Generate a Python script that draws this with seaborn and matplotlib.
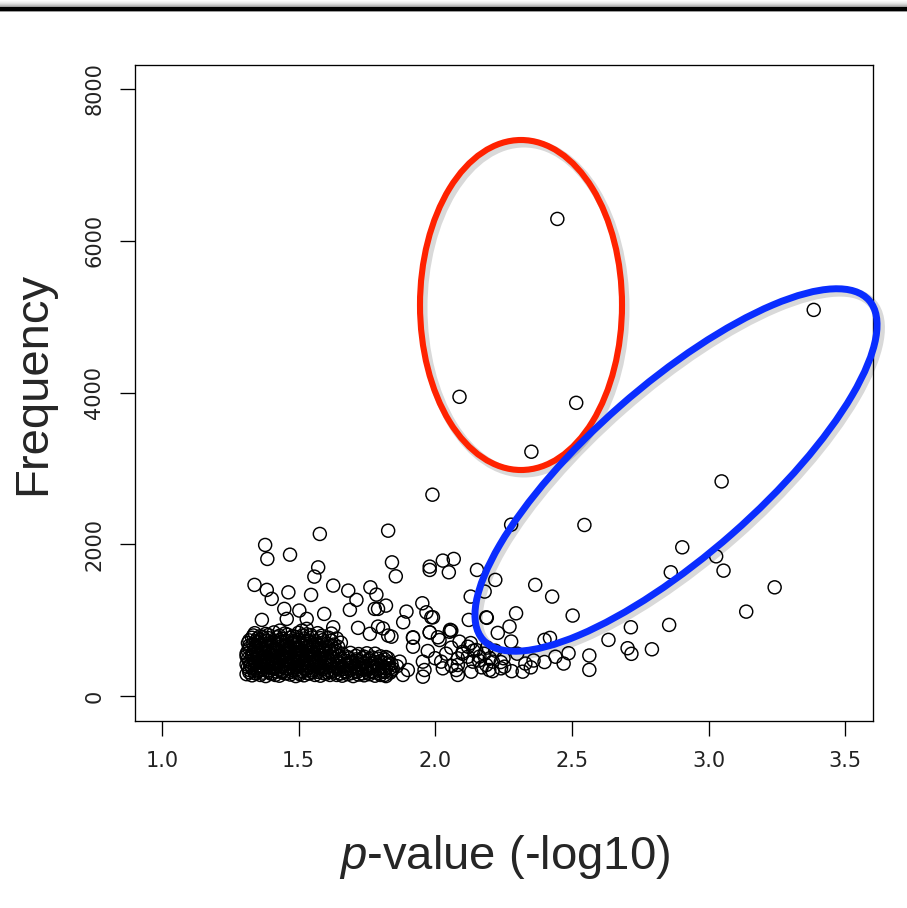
import matplotlib
matplotlib.use("Agg")
import matplotlib.pyplot as plt
import seaborn as sns
import pandas as pd
from matplotlib.patches import Ellipse, Rectangle
from matplotlib.transforms import IdentityTransform

# ---------------- data ----------------
x_ticks = [1.0, 1.5, 2.0, 2.5, 3.0, 3.5]
x_tick_labels = ["1.0", "1.5", "2.0", "2.5", "3.0", "3.5"]
y_ticks = [0, 2000, 4000, 6000, 8000]
y_tick_labels = ["0", "2000", "4000", "6000", "8000"]

# highlighted high-frequency points (red ellipse) and the top blue one
outlier_p = [2.447, 2.089, 2.516, 2.352, 3.385]
outlier_f = [6286, 3943, 3864, 3220, 5088]

# scattered points at medium level
spread_p = [3.048, 2.546, 2.904, 2.862, 3.028, 3.055, 3.242, 3.138, 2.856, 2.716,
            2.793, 2.704, 2.718, 2.634, 2.564, 2.564, 2.488, 2.503, 2.428, 2.366,
            2.40, 2.42, 2.296, 2.272, 2.278, 2.229, 2.189, 2.220, 2.181, 2.13,
            2.123, 2.153, 2.05, 2.068, 2.028, 2.278, 1.99, 2.055, 1.992,
            1.578, 1.828, 1.378, 1.386, 1.469, 1.572, 1.558, 1.842, 1.856, 1.98,
            1.98, 1.339, 1.384, 1.402, 1.463, 1.546, 1.627, 1.682, 1.712, 1.688,
            1.763, 1.785, 1.82, 1.779, 1.791, 1.448, 1.503, 1.457, 1.530, 1.594,
            1.366, 1.895, 1.953, 1.968, 1.986, 1.883, 2.187, 1.718, 1.791, 1.627,
            1.761, 1.828, 1.919, 1.98, 2.01, 2.059, 1.53, 1.432, 1.512]
spread_f = [2829, 2255, 1961, 1632, 1842, 1654, 1434, 1114, 939, 908,
            618, 632, 558, 742, 536, 347, 566, 1062, 1312, 1466,
            742, 768, 1092, 917, 720, 834, 1032, 1532, 1378, 1312,
            1005, 1663, 1632, 1808, 1786, 2259, 2654, 874, 1039,
            2137, 2180, 1992, 1808, 1864, 1697, 1575, 1763, 1579, 1707,
            1663, 1466, 1400, 1282, 1368, 1334, 1457, 1391, 1268, 1137,
            1434, 1338, 1193, 1150, 1150, 1150, 1128, 1018, 1018, 1084,
            1005, 1114, 1224, 1105, 1039, 974, 1039, 900, 917, 908,
            821, 799, 776, 842, 776, 864, 887, 864, 864]

# low-frequency points between 1.8 and 2.5
low_p = [1.809, 1.84, 1.919, 1.98, 2.016, 2.053, 1.919, 1.973, 2.059, 2.089,
         2.12, 2.15, 1.828, 1.87, 1.955, 2.022, 2.083, 2.101, 2.138, 2.162,
         2.187, 2.211, 2.241, 2.083, 2.028, 1.961, 1.90, 1.834, 1.816, 1.882,
         1.955, 2.077, 2.132, 2.198, 2.253, 2.32, 2.083, 2.25, 2.30, 2.33,
         2.36, 2.28, 2.35, 2.40, 2.44, 2.47, 2.10, 2.12, 2.14, 2.16,
         2.18, 2.20, 2.22, 2.17, 2.19, 2.13, 2.21, 2.24, 2.06, 2.04, 2.00]
low_f = [893, 784, 770, 840, 740, 849, 652, 595, 639, 718,
         652, 609, 498, 455, 455, 455, 498, 586, 455, 521,
         411, 455, 367, 411, 367, 345, 345, 367, 280, 280,
         257, 345, 323, 345, 389, 323, 280, 500, 560, 430,
         470, 330, 380, 450, 520, 430, 560, 520, 600, 470,
         560, 500, 600, 380, 640, 700, 330, 450, 400, 560, 500]

# dense cluster, x 1.3 - 1.65
dense_p = [1.31, 1.33, 1.345, 1.36, 1.38, 1.40, 1.415, 1.43, 1.45, 1.47, 1.49, 1.505, 1.52, 1.54, 1.56, 1.58, 1.60, 1.615,
           1.32, 1.34, 1.355, 1.37, 1.39, 1.41, 1.425, 1.44, 1.46, 1.48, 1.495, 1.51, 1.53, 1.55, 1.57, 1.59, 1.61,
           1.31, 1.325, 1.345, 1.365, 1.385, 1.40, 1.42, 1.435, 1.455, 1.475, 1.49, 1.51, 1.525, 1.545, 1.565, 1.58, 1.60, 1.62,
           1.315, 1.335, 1.35, 1.37, 1.39, 1.405, 1.425, 1.445, 1.46, 1.48, 1.50, 1.515, 1.535, 1.555, 1.575, 1.595, 1.61,
           1.31, 1.33, 1.345, 1.365, 1.38, 1.40, 1.42, 1.44, 1.455, 1.47, 1.49, 1.51, 1.53, 1.545, 1.56, 1.58, 1.60, 1.625,
           1.32, 1.34, 1.36, 1.375, 1.395, 1.41, 1.43, 1.45, 1.465, 1.485, 1.50, 1.52, 1.54, 1.555, 1.57, 1.59, 1.61, 1.635,
           1.315, 1.335, 1.355, 1.38, 1.40, 1.42, 1.44, 1.46, 1.48, 1.50, 1.525, 1.545, 1.565, 1.585, 1.605, 1.63, 1.655,
           1.33, 1.35, 1.37, 1.39, 1.42, 1.44, 1.47, 1.49, 1.52, 1.55, 1.58, 1.61, 1.64,
           1.34, 1.38, 1.41, 1.45, 1.50, 1.53, 1.57, 1.62]
dense_f = [290, 275, 300, 280, 265, 295, 280, 270, 300, 285, 265, 290, 275, 300, 280, 270, 295, 280,
           345, 360, 335, 355, 340, 365, 350, 330, 360, 345, 355, 335, 365, 340, 350, 360, 340,
           420, 410, 430, 405, 425, 415, 435, 400, 420, 430, 410, 425, 405, 435, 415, 400, 425, 410,
           490, 480, 500, 475, 495, 485, 470, 505, 490, 480, 495, 475, 500, 485, 470, 495, 480,
           560, 550, 570, 545, 565, 555, 575, 540, 560, 570, 550, 565, 545, 575, 555, 540, 565, 550,
           630, 620, 640, 615, 635, 625, 645, 610, 630, 640, 620, 635, 615, 645, 625, 610, 635, 620,
           700, 690, 710, 685, 705, 695, 715, 680, 700, 710, 690, 705, 685, 700, 690, 680, 705,
           770, 760, 780, 765, 775, 755, 770, 780, 760, 775, 765, 770, 760,
           830, 820, 840, 825, 835, 815, 830, 825]

# more points inside the dense cluster (between the rows above)
fill_p = [1.32, 1.34, 1.35, 1.37, 1.39, 1.405, 1.42, 1.44, 1.46, 1.475, 1.50, 1.515, 1.535, 1.55, 1.57, 1.59, 1.605, 1.62,
          1.315, 1.33, 1.35, 1.37, 1.385, 1.405, 1.415, 1.44, 1.455, 1.47, 1.49, 1.505, 1.52, 1.54, 1.56, 1.575, 1.595, 1.615,
          1.32, 1.34, 1.36, 1.375, 1.395, 1.41, 1.43, 1.45, 1.465, 1.485, 1.50, 1.52, 1.54, 1.56, 1.58, 1.60, 1.625,
          1.31, 1.33, 1.35, 1.37, 1.385, 1.405, 1.42, 1.44, 1.46, 1.475, 1.495, 1.515, 1.53, 1.55, 1.57, 1.585, 1.605, 1.62,
          1.315, 1.335, 1.355, 1.37, 1.39, 1.41, 1.425, 1.445, 1.46, 1.48, 1.50, 1.515, 1.535, 1.55, 1.575, 1.59, 1.615, 1.63,
          1.32, 1.345, 1.365, 1.385, 1.405, 1.425, 1.45, 1.47, 1.49, 1.51, 1.535, 1.555, 1.575, 1.595, 1.62, 1.645,
          1.32, 1.345, 1.36, 1.385, 1.41, 1.43, 1.455, 1.48, 1.50, 1.53, 1.56, 1.59, 1.62,
          1.335, 1.36, 1.39, 1.43, 1.46, 1.48, 1.515, 1.545, 1.585,
          1.635, 1.655, 1.675, 1.695, 1.715, 1.735, 1.755, 1.775, 1.795, 1.815, 1.835,
          1.645, 1.665, 1.69, 1.71, 1.73, 1.75, 1.77, 1.795, 1.82, 1.845,
          1.65, 1.675, 1.695, 1.72, 1.74, 1.765, 1.79, 1.815, 1.84,
          1.655, 1.685, 1.71, 1.735, 1.76, 1.79, 1.815,
          1.66, 1.69, 1.72, 1.75, 1.78]
fill_f = [315, 305, 325, 310, 320, 300, 325, 315, 305, 320, 310, 325, 300, 315, 320, 305, 315, 325,
          385, 375, 395, 380, 390, 370, 395, 385, 375, 390, 380, 395, 370, 385, 390, 375, 385, 395,
          455, 445, 460, 450, 465, 440, 455, 465, 445, 455, 460, 440, 455, 465, 450, 445, 460,
          525, 515, 530, 520, 510, 530, 515, 525, 520, 510, 530, 515, 525, 520, 510, 530, 515, 525,
          595, 585, 600, 590, 580, 600, 590, 585, 600, 595, 580, 600, 590, 585, 595, 600, 585, 595,
          665, 655, 670, 660, 650, 670, 660, 655, 670, 665, 650, 670, 660, 655, 665, 650,
          735, 725, 740, 730, 720, 740, 730, 725, 740, 730, 725, 740, 730,
          800, 790, 805, 795, 810, 790, 800, 805, 795,
          310, 300, 315, 305, 320, 300, 310, 315, 305, 320, 310,
          370, 360, 375, 365, 370, 355, 375, 365, 370, 360,
          430, 425, 440, 420, 435, 430, 420, 440, 425,
          495, 500, 485, 500, 490, 495, 485,
          560, 570, 555, 565, 560]

# cluster continuation, x 1.63 - 1.86
mid_p = [1.64, 1.66, 1.68, 1.70, 1.72, 1.74, 1.76, 1.78, 1.80, 1.82,
         1.63, 1.65, 1.67, 1.69, 1.71, 1.73, 1.75, 1.77, 1.79, 1.81, 1.84,
         1.64, 1.66, 1.685, 1.705, 1.725, 1.745, 1.765, 1.785, 1.81, 1.83, 1.86,
         1.645, 1.67, 1.69, 1.715, 1.735, 1.76, 1.78, 1.80, 1.83,
         1.65, 1.68, 1.71, 1.74, 1.77, 1.80, 1.82]
mid_f = [280, 270, 290, 265, 285, 275, 290, 270, 280, 265,
         340, 350, 330, 345, 335, 355, 340, 330, 350, 340, 335,
         400, 390, 410, 395, 405, 385, 400, 410, 390, 405, 395,
         460, 470, 450, 465, 455, 470, 450, 460, 445,
         525, 515, 530, 520, 510, 525, 515]

# ---------------- figure ----------------
sns.set_style("ticks")
plt.rcParams["font.family"] = ["DejaVu Sans"]
plt.rcParams["mathtext.fontset"] = "custom"
plt.rcParams["mathtext.it"] = "Liberation Sans:italic"
plt.rcParams["mathtext.rm"] = "Liberation Sans"

W, H = 907, 908
fig = plt.figure(figsize=(W / 100, H / 100), dpi=100)
fig.patch.set_facecolor("white")
ax = fig.add_axes([134.5 / W, (H - 720.5) / H, (872.5 - 134.5) / W, (720.5 - 64.5) / H])

df = pd.DataFrame({
    "p": outlier_p + spread_p + low_p + dense_p + fill_p + mid_p,
    "freq": outlier_f + spread_f + low_f + dense_f + fill_f + mid_f,
})
sns.scatterplot(data=df, x="p", y="freq", ax=ax, marker="o", s=88,
                facecolor="none", edgecolor="black", linewidth=1.05)
for coll in ax.collections:
    coll.set_facecolor("none")
    coll.set_edgecolor("black")

ax.set_xlim(0.9, 3.6)
ax.set_ylim(-320, 8320)
ax.set_xticks(x_ticks)
ax.set_xticklabels(x_tick_labels)
ax.set_yticks(y_ticks)
ax.set_yticklabels(y_tick_labels, rotation=90, va="center")
ax.tick_params(length=10.8, width=0.95, pad=11, labelsize=15, color="black", labelcolor="#222222")
for s in ax.spines.values():
    s.set_visible(True)
    s.set_linewidth(0.95)
    s.set_color("black")
ax.set_xlabel("")
ax.set_ylabel("")

fig.text(33 / W, 1 - 383 / H, "Frequency", rotation=90, fontsize=34,
         family="Liberation Sans", ha="center", va="center")
fig.text(505 / W, 1 - 857 / H, r"$\mathit{p}$-value (-log10)", fontsize=34,
         family="Liberation Sans", ha="center", va="center")

# top rule with soft shading
shade = ["#fbfbfb", "#f4f4f4", "#ececec", "#e0e0e0", "#d0d0d0", "#bcbcbc", "#a0a0a0"]
for i, c in enumerate(shade):
    fig.add_artist(Rectangle((0, H - 1 - i), W, 1, transform=IdentityTransform(),
                             color=c, lw=0))
fig.add_artist(Rectangle((0, H - 11), W, 4, transform=IdentityTransform(), color="black", lw=0))
fig.add_artist(Rectangle((0, H - 12), W, 1, transform=IdentityTransform(), color="#9a9a9a", lw=0))

# annotation ellipses (with faint shadow)
tr = IdentityTransform()
fig.add_artist(Ellipse((524, H - 308), 202, 330, angle=0, fill=False,
                       ec=(0, 0, 0, 0.15), lw=6.5, transform=tr))
fig.add_artist(Ellipse((521, H - 305), 202, 330, angle=0, fill=False,
                       ec="#ff2200", lw=4.4, transform=tr))
fig.add_artist(Ellipse((679, H - 473), 514, 170, angle=41.3, fill=False,
                       ec=(0, 0, 0, 0.15), lw=7, transform=tr))
fig.add_artist(Ellipse((676, H - 470), 514, 170, angle=41.3, fill=False,
                       ec="#0a2dff", lw=5.0, transform=tr))

fig.savefig("out.png", dpi=100)
